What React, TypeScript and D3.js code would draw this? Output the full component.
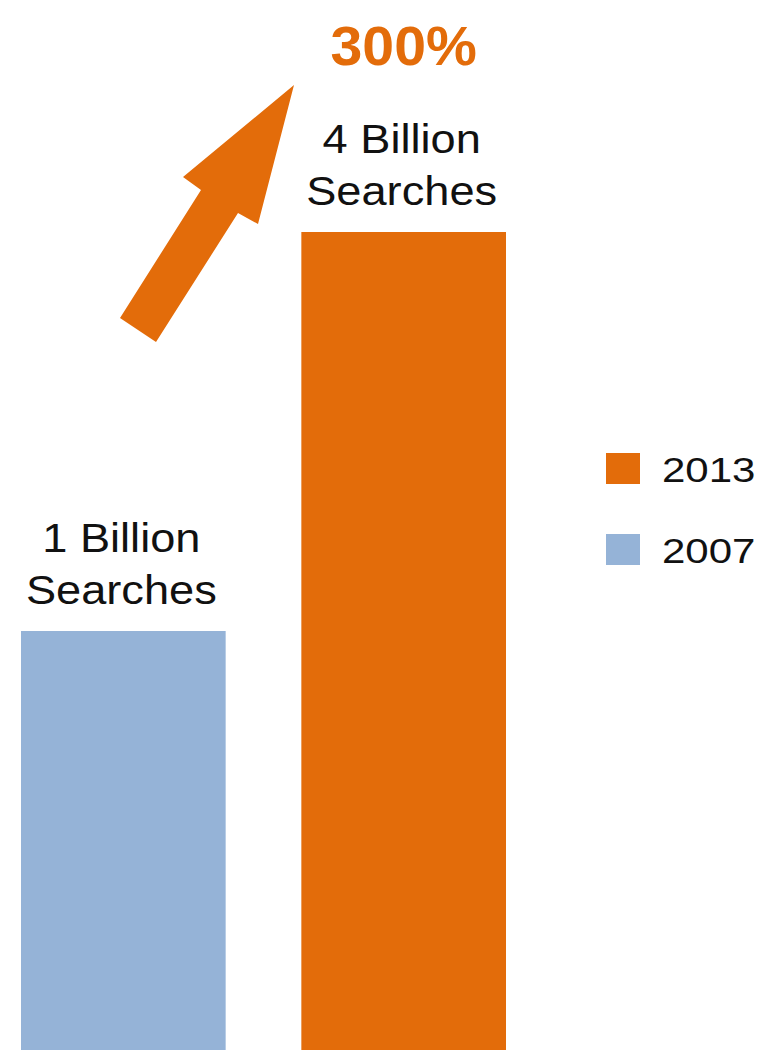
import { useRef, useEffect } from "react";
import * as d3 from "d3";

const years = ["2007", "2013"];
const searches = [1, 4];
const labelLines = [["1 Billion", "Searches"], ["4 Billion", "Searches"]];
const colors = ["#95B3D7", "#E36C0A"];
const growthLabel = "300%";

const W = 761;
const H = 1050;
const FONT = "'Liberation Sans', Arial, sans-serif";

// arrow outline, tip first
const ARROW: [number, number][] = [
  [294, 85], [183, 177], [201, 190], [120, 318], [156, 342], [238, 213], [258, 224],
];

export default function App() {
  const ref = useRef<SVGSVGElement>(null);

  useEffect(() => {
    if (!ref.current) return;
    const svg = d3.select(ref.current);
    svg.selectAll("*").remove();
    svg.attr("width", W).attr("height", H);

    const x = d3.scaleBand().domain(years).range([21, 506]).paddingInner(0.27).paddingOuter(0);
    const y = d3.scaleLinear().domain([0, 4]).range([764, 232]);

    const rows = years.map((yr, i) => ({ yr, v: searches[i], lines: labelLines[i], color: colors[i] }));

    svg.selectAll(".bar").data(rows).join("rect").attr("class", "bar")
      .attr("x", d => x(d.yr)!).attr("y", d => y(d.v))
      .attr("width", x.bandwidth()).attr("height", d => H - y(d.v))
      .attr("fill", d => d.color);

    const lbl = svg.selectAll(".lbl").data(rows).join("g").attr("class", "lbl");
    lbl.each(function (d) {
      const cx = x(d.yr)! + x.bandwidth() / 2;
      d.lines.forEach((t, j) => {
        d3.select(this).append("text")
          .attr("transform", `translate(${cx - 2},${y(d.v) - 27 - (d.lines.length - 1 - j) * 52}) scale(1.13,1)`)
          .attr("text-anchor", "middle").attr("font-family", FONT).attr("font-size", 40)
          .attr("fill", "#111").text(t);
      });
    });

    svg.append("polygon").attr("points", ARROW.map(p => p.join(",")).join(" ")).attr("fill", colors[1]);

    svg.append("text")
      .attr("transform", `translate(${x("2013")! + x.bandwidth() / 2},65) scale(1.04,1)`)
      .attr("text-anchor", "middle").attr("font-family", FONT).attr("font-weight", "bold")
      .attr("font-size", 55).attr("fill", colors[1]).text(growthLabel);

    const legend = [...rows].reverse();
    const lg = svg.selectAll(".leg").data(legend).join("g").attr("class", "leg")
      .attr("transform", (_, i) => `translate(606,${453 + i * 81})`);
    lg.append("rect").attr("width", 34).attr("height", 31).attr("fill", d => d.color);
    lg.append("text").attr("transform", "translate(56,29) scale(1.2,1)")
      .attr("font-family", FONT).attr("font-size", 35).attr("fill", "#111").text(d => d.yr);
  }, []);

  return <svg ref={ref} style={{ position: "absolute", left: 0, top: 0, display: "block" }} />;
}
